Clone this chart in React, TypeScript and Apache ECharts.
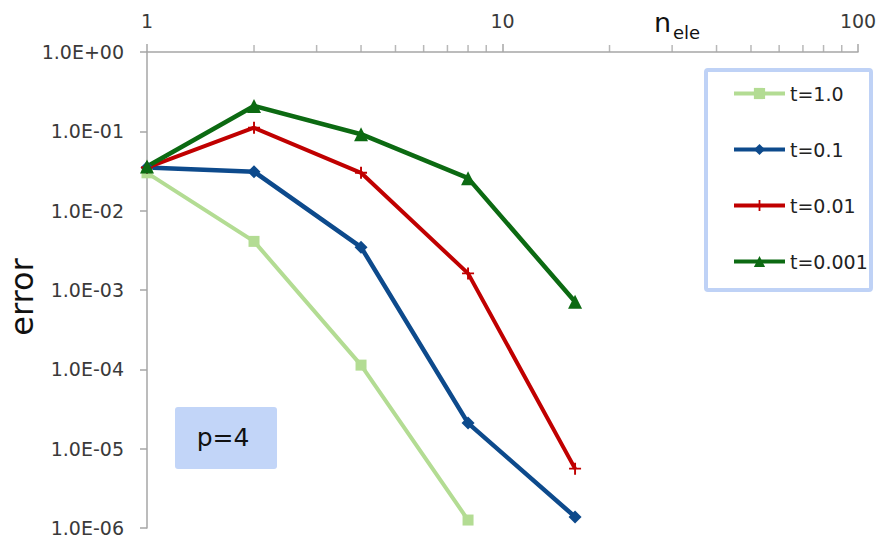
import React, { useEffect, useRef } from "react";
import * as echarts from "echarts";

const xValues = [1, 2, 4, 8, 16];
const seriesNames = ["t=1.0", "t=0.1", "t=0.01", "t=0.001"];
const t10 = [0.030, 0.0041, 1.13e-4, 1.26e-6];
const t01 = [0.035, 0.031, 3.47e-3, 2.1e-5, 1.38e-6];
const t001 = [0.035, 0.111, 0.030, 1.62e-3, 5.6e-6];
const t0001 = [0.036, 0.209, 0.092, 0.0257, 7.1e-4];
const xMinorTicks = [2, 3, 4, 5, 6, 7, 8, 9, 20, 30, 40, 50, 60, 70, 80, 90];
const yTickLabels = ["1.0E-06", "1.0E-05", "1.0E-04", "1.0E-03", "1.0E-02", "1.0E-01", "1.0E+00"];

const FONT = "DejaVu Sans";
const plusPath = "path://M4.2,0L5.8,0L5.8,4.2L10,4.2L10,5.8L5.8,5.8L5.8,10L4.2,10L4.2,5.8L0,5.8L0,4.2L4.2,4.2Z";

function pair(vals: number[]) {
  return vals.map((v, i) => [xValues[i], v]);
}

export default function App() {
  const ref = useRef<HTMLDivElement>(null);
  useEffect(() => {
    if (!ref.current) return;
    const chart = echarts.init(ref.current, null, { renderer: "svg" });
    const colors = ["#b3dc93", "#0d4a8c", "#c00000", "#0c6a12"];
    chart.setOption({
      animation: false,
      backgroundColor: "#ffffff",
      grid: { left: 147, top: 52, right: 23, bottom: 11 },
      xAxis: {
        type: "log",
        logBase: 10,
        min: 1,
        max: 100,
        position: "top",
        axisLine: { show: true, lineStyle: { color: "#a6a6a6", width: 1.5 } },
        axisTick: { show: true, inside: false, length: 8, lineStyle: { color: "#a6a6a6", width: 1.5 } },
        axisLabel: { color: "#3a3a3a", fontSize: 19, fontFamily: FONT, margin: 22 },
        splitLine: { show: false },
      },
      yAxis: {
        type: "log",
        logBase: 10,
        min: 1e-6,
        max: 1,
        axisLine: { show: true, lineStyle: { color: "#a6a6a6", width: 1.5 } },
        axisTick: { show: true, length: 7, lineStyle: { color: "#a6a6a6", width: 1.5 } },
        axisLabel: {
          color: "#3a3a3a",
          fontSize: 19,
          fontFamily: FONT,
          margin: 23,
          formatter: (v: number) => {
            const e = Math.round(Math.log10(v));
            return yTickLabels[e + 6] ?? "";
          },
        },
        splitLine: { show: false },
      },
      legend: {
        data: seriesNames,
        orient: "vertical",
        left: 727,
        top: 79,
        itemWidth: 51,
        itemHeight: 14,
        itemGap: 37,
        lineStyle: { width: 4 },
        textStyle: { fontSize: 19, fontFamily: FONT, color: "#222" },
      },
      series: [
        {
          name: seriesNames[0],
          type: "line",
          data: pair(t10),
          symbol: "rect",
          symbolSize: 11,
          lineStyle: { color: colors[0], width: 4 },
          itemStyle: { color: colors[0] },
        },
        {
          name: seriesNames[1],
          type: "line",
          data: pair(t01),
          symbol: "diamond",
          symbolSize: 13,
          lineStyle: { color: colors[1], width: 4.5 },
          itemStyle: { color: colors[1] },
        },
        {
          name: seriesNames[2],
          type: "line",
          data: pair(t001),
          symbol: plusPath,
          symbolSize: 12,
          lineStyle: { color: colors[2], width: 4 },
          itemStyle: { color: colors[2] },
        },
        {
          name: seriesNames[3],
          type: "line",
          data: pair(t0001),
          symbol: "triangle",
          symbolSize: 14,
          lineStyle: { color: colors[3], width: 4.5 },
          itemStyle: { color: colors[3] },
        },
        {
          name: "minorTicks",
          type: "scatter",
          silent: true,
          clip: false,
          data: xMinorTicks.map((x) => [x, 1]),
          symbol: "rect",
          symbolSize: [1.5, 7],
          symbolOffset: [0, -3.5],
          itemStyle: { color: "#a6a6a6" },
          z: 1,
        },
      ],
      graphic: [
        {
          type: "rect",
          shape: { x: 706, y: 70, width: 165, height: 220, r: 2 },
          style: { fill: "none", stroke: "#bfd2f6", lineWidth: 4 },
          z: 100,
        },
        {
          type: "rect",
          shape: { x: 175, y: 407, width: 102, height: 62, r: 3 },
          style: { fill: "#c2d5f8" },
        },
        {
          type: "text",
          x: 223,
          y: 437,
          style: { text: "p=4", fontSize: 25, fontFamily: FONT, fill: "#111", align: "center", verticalAlign: "middle" },
        },
        {
          type: "text",
          x: 22,
          y: 297,
          rotation: Math.PI / 2,
          style: { text: "error", fontSize: 32, fontFamily: FONT, fill: "#111", align: "center", verticalAlign: "middle" },
        },
        {
          type: "text",
          x: 654,
          y: 22,
          style: { text: "n", fontSize: 27, fontFamily: FONT, fill: "#111", align: "left", verticalAlign: "middle" },
        },
        {
          type: "text",
          x: 673,
          y: 32,
          style: { text: "ele", fontSize: 18, fontFamily: FONT, fill: "#111", align: "left", verticalAlign: "middle" },
        },
      ],
    });
    return () => chart.dispose();
  }, []);
  return <div ref={ref} style={{ width: 881, height: 539, position: "fixed", left: 0, top: 0 }} />;
}
